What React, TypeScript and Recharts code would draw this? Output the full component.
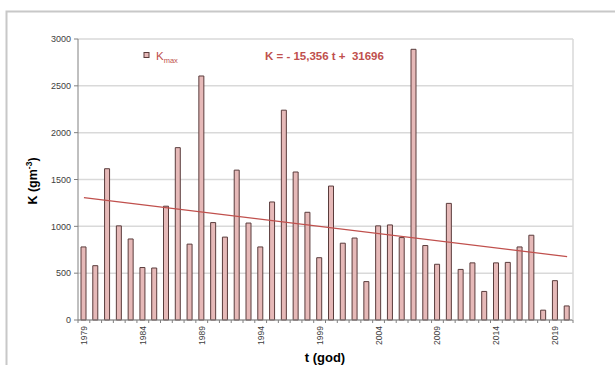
import React from "react";
import { ComposedChart, Bar, Line, XAxis, YAxis, CartesianGrid } from "recharts";

const years: number[] = [
  1979, 1980, 1981, 1982, 1983, 1984, 1985, 1986, 1987, 1988, 1989, 1990, 1991, 1992,
  1993, 1994, 1995, 1996, 1997, 1998, 1999, 2000, 2001, 2002, 2003, 2004, 2005, 2006,
  2007, 2008, 2009, 2010, 2011, 2012, 2013, 2014, 2015, 2016, 2017, 2018, 2019, 2020,
];

const kmax: number[] = [
  780, 580, 1615, 1005, 865, 560, 555, 1215, 1840, 810, 2605, 1040, 885, 1600,
  1035, 780, 1260, 2240, 1580, 1150, 665, 1430, 820, 875, 410, 1005, 1015, 880,
  2890, 795, 595, 1245, 540, 610, 305, 610, 615, 780, 905, 105, 420, 150,
];

// trend line end points (first and last year)
const trendStart = 1307;
const trendEnd = 677;

const labelYears: number[] = [1979, 1984, 1989, 1994, 1999, 2004, 2009, 2014, 2019];
const yTicks: number[] = [0, 500, 1000, 1500, 2000, 2500, 3000];

const data = years.map((y, i) => ({
  year: y,
  k: kmax[i],
  trend: i === 0 ? trendStart : i === years.length - 1 ? trendEnd : null,
}));

const W = 615;
const H = 365;
const M = { top: 39, right: 42, bottom: 0, left: 0 };
const Y_W = 78;
const X_H = 45;
const FONT = "'Liberation Sans', Arial, sans-serif";
const RED = "#C0504D";
const BAR_FILL = "#E6B9B8";
const BAR_STROKE = "#5a3c3c";
const GRID = "#d9d9d9";

const plotLeft = M.left + Y_W;
const plotRight = W - M.right;
const plotTop = M.top;
const plotBottom = H - M.bottom - X_H;
const step = (plotRight - plotLeft) / years.length;

const XTick = (props: any) => {
  const { x, y, payload, index } = props;
  const off = payload && payload.offset ? payload.offset : step / 2;
  const show = labelYears.includes(Number(payload.value));
  const ly = y + 6;
  return (
    <g>
      <line x1={x - off} x2={x - off} y1={y} y2={y + 3} stroke="#808080" strokeWidth={1} />
      {index === years.length - 1 && (
        <line x1={x + off} x2={x + off} y1={y} y2={y + 3} stroke="#808080" strokeWidth={1} />
      )}
      {show && (
        <text
          x={x}
          y={ly}
          transform={`rotate(-90, ${x}, ${ly})`}
          textAnchor="end"
          dominantBaseline="central"
          fontSize={8.5}
          fill="#404040"
          fontFamily={FONT}
        >
          {payload.value}
        </text>
      )}
    </g>
  );
};

export default function App() {
  return (
    <div style={{ position: "absolute", left: 0, top: 0, width: W, height: H, background: "#fff" }}>
      <ComposedChart width={W} height={H} data={data} margin={M}>
        <CartesianGrid vertical={false} stroke={GRID} strokeWidth={1.5} />
        <XAxis
          dataKey="year"
          height={X_H}
          interval={0}
          tickSize={0}
          tickMargin={0}
          tickLine={false}
          axisLine={{ stroke: "#808080" }}
          tick={<XTick />}
        />
        <YAxis
          width={Y_W}
          domain={[0, 3000]}
          ticks={yTicks}
          tickSize={4}
          tickMargin={3}
          tickLine={{ stroke: "#808080" }}
          axisLine={{ stroke: "#808080" }}
          tick={{ fontSize: 9, fill: "#404040", fontFamily: FONT }}
          interval={0}
        />
        <Bar
          dataKey="k"
          fill={BAR_FILL}
          stroke={BAR_STROKE}
          strokeWidth={1}
          barSize={5}
          isAnimationActive={false}
        />
        <Line
          dataKey="trend"
          stroke={RED}
          strokeWidth={1.3}
          dot={false}
          connectNulls
          isAnimationActive={false}
        />
      </ComposedChart>
      <svg
        width={W}
        height={H}
        style={{ position: "absolute", left: 0, top: 0, pointerEvents: "none" }}
      >
        <path d={`M 6.5 ${H + 5} L 6.5 11.5 L ${W + 5} 11.5`} fill="none" stroke="#c8c8c8" strokeWidth={2} />
        <line x1={plotRight} x2={plotRight} y1={plotTop} y2={plotBottom} stroke={GRID} strokeWidth={1.5} />
        <rect x={144} y={52.5} width={5} height={5} fill={BAR_FILL} stroke={BAR_STROKE} strokeWidth={1} />
        <text x={156} y={60} fontSize={11.5} fill={RED} fontFamily={FONT}>
          K
          <tspan fontSize={7.5} dy={2.5}>max</tspan>
        </text>
        <text
          x={265}
          y={60}
          fontSize={11.5}
          fontWeight="bold"
          fill={RED}
          fontFamily={FONT}
          style={{ whiteSpace: "pre" }}
        >
          {"K = - 15,356 t +  31696"}
        </text>
        <text
          x={37}
          y={181}
          transform="rotate(-90, 37, 181)"
          textAnchor="middle"
          fontSize={12.5}
          fontWeight="bold"
          fill="#000"
          fontFamily={FONT}
        >
          K (gm
          <tspan fontSize={8.5} dy={-5}>-3</tspan>
          <tspan dy={5}>)</tspan>
        </text>
        <text
          x={325}
          y={362}
          textAnchor="middle"
          fontSize={13}
          fontWeight="bold"
          fill="#000"
          fontFamily={FONT}
        >
          t (god)
        </text>
      </svg>
    </div>
  );
}
